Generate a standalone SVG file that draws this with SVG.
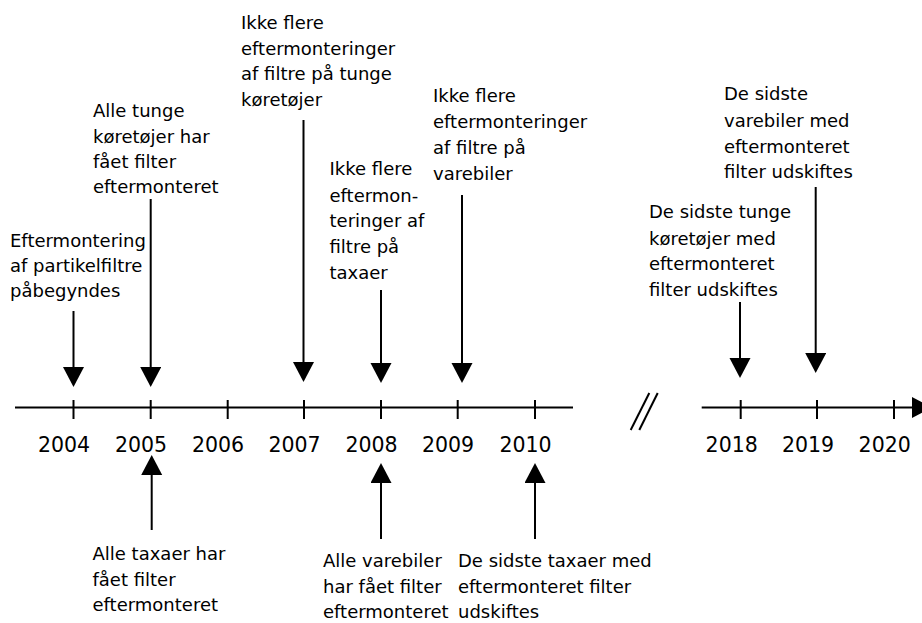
<svg xmlns="http://www.w3.org/2000/svg" width="922" height="623" viewBox="0 0 922 623">
<style>
.lbl{font-family:"DejaVu Sans","Open Sans",sans-serif;font-size:18px;fill:#000}
.yr{font-family:"DejaVu Sans","Open Sans",sans-serif;font-size:20.5px;fill:#000;text-anchor:middle}
.ax{stroke:#000;stroke-width:2;fill:none}
.arr{stroke:#000;stroke-width:2;fill:none;marker-end:url(#ah)}
</style>
<defs>
<marker id="ah" markerUnits="userSpaceOnUse" markerWidth="21" markerHeight="22" refX="0" refY="10.5" orient="auto" viewBox="0 0 21 22">
<path d="M0,0 L20,10.5 L0,21 z" fill="#000"/>
</marker>
</defs>
<g id="axis">
<line class="ax" x1="15" y1="407.5" x2="573" y2="407.5"/>
<line class="ax" x1="73.5" y1="400" x2="73.5" y2="419"/>
<line class="ax" x1="150.7" y1="400" x2="150.7" y2="419"/>
<line class="ax" x1="227.7" y1="400" x2="227.7" y2="419"/>
<line class="ax" x1="304" y1="400" x2="304" y2="419"/>
<line class="ax" x1="381" y1="400" x2="381" y2="419"/>
<line class="ax" x1="457.7" y1="400" x2="457.7" y2="419"/>
<line class="ax" x1="535" y1="400" x2="535" y2="419"/>
<line class="ax" x1="630.7" y1="430" x2="649.3" y2="393"/>
<line class="ax" x1="639.3" y1="430" x2="657.7" y2="393"/>
<line class="arr" x1="701.7" y1="407.5" x2="912" y2="407.5"/>
<line class="ax" x1="740.7" y1="400" x2="740.7" y2="419"/>
<line class="ax" x1="817" y1="400" x2="817" y2="419"/>
<line class="ax" x1="894" y1="400" x2="894" y2="419"/>
</g>
<g id="years">
<text class="yr" x="64" y="452">2004</text>
<text class="yr" x="141" y="452">2005</text>
<text class="yr" x="218" y="452">2006</text>
<text class="yr" x="294.5" y="452">2007</text>
<text class="yr" x="371.5" y="452">2008</text>
<text class="yr" x="448" y="452">2009</text>
<text class="yr" x="525.5" y="452">2010</text>
<text class="yr" x="731.7" y="452">2018</text>
<text class="yr" x="808" y="452">2019</text>
<text class="yr" x="884.7" y="452">2020</text>
</g>
<g id="connectors">
<line class="arr" x1="73.5" y1="311" x2="73.5" y2="367"/>
<line class="arr" x1="150.7" y1="199" x2="150.7" y2="367"/>
<line class="arr" x1="303.5" y1="120" x2="303.5" y2="362"/>
<line class="arr" x1="381" y1="290" x2="381" y2="363"/>
<line class="arr" x1="462" y1="195" x2="462" y2="363"/>
<line class="arr" x1="740" y1="302" x2="740" y2="358"/>
<line class="arr" x1="815.7" y1="187" x2="815.7" y2="353"/>
<line class="arr" x1="151.7" y1="530" x2="151.7" y2="475"/>
<line class="arr" x1="381" y1="539" x2="381" y2="483"/>
<line class="arr" x1="535" y1="539" x2="535" y2="483"/>
</g>
<g id="n2004">
<text class="lbl"><tspan x="10" y="247">Eftermontering</tspan><tspan x="10" y="272">af partikelfiltre</tspan><tspan x="10" y="297">påbegyndes</tspan></text>
</g>
<g id="n2005top">
<text class="lbl"><tspan x="93" y="117">Alle tunge</tspan><tspan x="93" y="142.5">køretøjer har</tspan><tspan x="93" y="167.5">fået filter</tspan><tspan x="93" y="192.5">eftermonteret</tspan></text>
</g>
<g id="n2007">
<text class="lbl"><tspan x="241" y="28.5">Ikke flere</tspan><tspan x="241" y="54.5">eftermonteringer</tspan><tspan x="241" y="80">af filtre på tunge</tspan><tspan x="241" y="106">køretøjer</tspan></text>
</g>
<g id="n2008top">
<text class="lbl"><tspan x="329.5" y="175">Ikke flere</tspan><tspan x="329.5" y="201.5">eftermon-</tspan><tspan x="329.5" y="227">teringer af</tspan><tspan x="329.5" y="253">filtre på</tspan><tspan x="329.5" y="278.5">taxaer</tspan></text>
</g>
<g id="n2009">
<text class="lbl"><tspan x="433" y="102">Ikke flere</tspan><tspan x="433" y="128">eftermonteringer</tspan><tspan x="433" y="153.5">af filtre på</tspan><tspan x="433" y="180">varebiler</tspan></text>
</g>
<g id="n2018">
<text class="lbl"><tspan x="649" y="218">De sidste tunge</tspan><tspan x="649" y="244.5">køretøjer med</tspan><tspan x="649" y="270">eftermonteret</tspan><tspan x="649" y="295.5">filter udskiftes</tspan></text>
</g>
<g id="n2019">
<text class="lbl"><tspan x="724" y="100">De sidste</tspan><tspan x="724" y="126.5">varebiler med</tspan><tspan x="724" y="152.5">eftermonteret</tspan><tspan x="724" y="178">filter udskiftes</tspan></text>
</g>
<g id="n2005bot">
<text class="lbl"><tspan x="92.5" y="560">Alle taxaer har</tspan><tspan x="92.5" y="585.5">fået filter</tspan><tspan x="92.5" y="611">eftermonteret</tspan></text>
</g>
<g id="n2008bot">
<text class="lbl"><tspan x="323" y="567">Alle varebiler</tspan><tspan x="323" y="592.5">har fået filter</tspan><tspan x="323" y="617.5">eftermonteret</tspan></text>
</g>
<g id="n2010">
<text class="lbl"><tspan x="458" y="567">De sidste taxaer med</tspan><tspan x="458" y="592.5">eftermonteret filter</tspan><tspan x="458" y="617.5">udskiftes</tspan></text>
</g>
</svg>
